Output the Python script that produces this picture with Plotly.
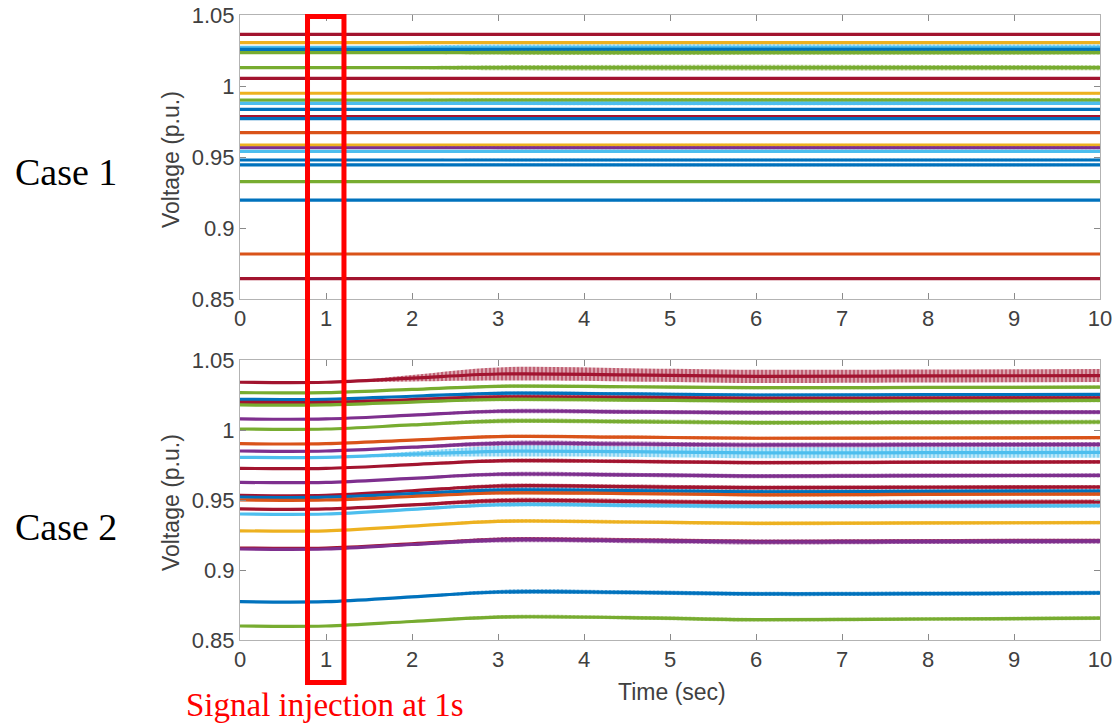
import plotly.graph_objects as go

W, H = 1117, 724

# MATLAB default line colours
PALETTE = {
    "blue": "#0072BD",
    "orange": "#D95319",
    "yellow": "#EDB120",
    "purple": "#7E2F8E",
    "green": "#77AC30",
    "cyan": "#4DBEEE",
    "darkred": "#A2142F",
}

# ---------------- Case 1: bus voltages stay flat ----------------
case1_time = [0, 1, 2, 3, 10]
case1_ramp = [0, 0, 0.6, 1, 1]          # growth of the oscillation after injection
case1_colors = ["darkred", "yellow", "cyan", "blue", "green", "green", "darkred",
                "yellow", "green", "cyan", "blue", "darkred", "blue", "orange",
                "yellow", "purple", "cyan", "blue", "blue", "green", "blue",
                "orange", "darkred"]
case1_levels = [1.0364, 1.0305, 1.0272, 1.0258, 1.0235, 1.0129, 1.0054,
                0.9949, 0.9900, 0.9878, 0.9836, 0.9784, 0.9770, 0.9671,
                0.9584, 0.9565, 0.9540, 0.9479, 0.9444, 0.9326, 0.9197,
                0.8817, 0.8643]
case1_osc = [0.0008, 0.0010, 0.0020, 0.0010, 0.0014, 0.0018, 0.0009,
             0.0008, 0.0014, 0.0012, 0.0008, 0.0009, 0.0008, 0.0008,
             0.0008, 0.0010, 0.0010, 0.0008, 0.0008, 0.0006, 0.0007,
             0.0005, 0.0005]

# ---------------- Case 2: voltages rise after injection ----------------
case2_time = [0, 1, 2, 3, 4.5, 6, 8, 10]
case2_ramp = [0, 0, 0.5, 1, 1, 1, 1, 1]
case2_colors = ["darkred", "green", "blue", "darkred", "green", "purple", "green",
                "orange", "purple", "cyan", "darkred", "purple", "darkred", "blue",
                "orange", "darkred", "cyan", "yellow", "darkred", "purple", "blue",
                "green"]
case2_levels = [
    [1.0341, 1.0341, 1.0370, 1.0400, 1.0394, 1.0383, 1.0386, 1.0389],
    [1.0267, 1.0267, 1.0290, 1.0312, 1.0309, 1.0302, 1.0304, 1.0306],
    [1.0219, 1.0219, 1.0241, 1.0262, 1.0258, 1.0250, 1.0252, 1.0254],
    [1.0198, 1.0198, 1.0217, 1.0236, 1.0233, 1.0226, 1.0228, 1.0230],
    [1.0179, 1.0179, 1.0199, 1.0218, 1.0214, 1.0207, 1.0209, 1.0211],
    [1.0079, 1.0079, 1.0106, 1.0134, 1.0130, 1.0124, 1.0126, 1.0128],
    [1.0007, 1.0007, 1.0036, 1.0064, 1.0060, 1.0052, 1.0055, 1.0057],
    [0.9902, 0.9902, 0.9928, 0.9953, 0.9949, 0.9941, 0.9943, 0.9945],
    [0.9850, 0.9850, 0.9877, 0.9904, 0.9900, 0.9893, 0.9895, 0.9897],
    [0.9805, 0.9805, 0.9827, 0.9848, 0.9845, 0.9836, 0.9838, 0.9840],
    [0.9726, 0.9726, 0.9753, 0.9780, 0.9776, 0.9767, 0.9770, 0.9772],
    [0.9626, 0.9626, 0.9655, 0.9684, 0.9680, 0.9671, 0.9674, 0.9676],
    [0.9533, 0.9533, 0.9566, 0.9600, 0.9595, 0.9588, 0.9591, 0.9593],
    [0.9520, 0.9520, 0.9545, 0.9571, 0.9567, 0.9559, 0.9562, 0.9564],
    [0.9500, 0.9500, 0.9525, 0.9550, 0.9546, 0.9537, 0.9540, 0.9542],
    [0.9436, 0.9436, 0.9465, 0.9495, 0.9490, 0.9481, 0.9484, 0.9486],
    [0.9400, 0.9400, 0.9433, 0.9466, 0.9462, 0.9454, 0.9456, 0.9459],
    [0.9280, 0.9280, 0.9314, 0.9348, 0.9343, 0.9333, 0.9336, 0.9339],
    [0.9157, 0.9157, 0.9187, 0.9218, 0.9213, 0.9203, 0.9206, 0.9209],
    [0.9150, 0.9150, 0.9182, 0.9214, 0.9209, 0.9200, 0.9203, 0.9206],
    [0.8774, 0.8774, 0.8808, 0.8843, 0.8840, 0.8829, 0.8831, 0.8836],
    [0.8600, 0.8600, 0.8632, 0.8664, 0.8660, 0.8645, 0.8650, 0.8656],
]
case2_osc = [0.0047, 0.0011, 0.0011, 0.0013, 0.0013, 0.0015, 0.0016,
             0.0011, 0.0018, 0.0038, 0.0013, 0.0015, 0.0015, 0.0015,
             0.0011, 0.0018, 0.0015, 0.0013, 0.0015, 0.0018, 0.0015,
             0.0013]

x_ticks = list(range(0, 11))
y_ticks = [0.85, 0.9, 0.95, 1.0, 1.05]
y_ticktext = ["0.85", "0.9", "0.95", "1", "1.05"]


def rgba(hex_color, alpha):
    h = hex_color.lstrip("#")
    r, g, b = int(h[0:2], 16), int(h[2:4], 16), int(h[4:6], 16)
    return f"rgba({r},{g},{b},{alpha})"


def px_x(p):
    return p / W


def px_y(p):
    return 1 - p / H


def add_bus(fig, t, levels, ramp, osc, color, xa, ya):
    upper = [v + osc * r for v, r in zip(levels, ramp)]
    lower = [v - osc * r for v, r in zip(levels, ramp)]
    common = dict(x=t, mode="lines", xaxis=xa, yaxis=ya,
                  showlegend=False, hoverinfo="skip")
    fig.add_trace(go.Scatter(y=upper, line=dict(width=0, shape="spline",
                                                 color=color), **common))
    fig.add_trace(go.Scatter(
        y=lower, line=dict(width=0, shape="spline", color=color),
        fill="tonexty", fillcolor=rgba(color, 0.4),
        fillpattern=dict(shape="|", fgcolor=color, bgcolor=rgba(color, 0.35),
                         size=4, solidity=0.55),
        **common))
    fig.add_trace(go.Scatter(y=levels, line=dict(width=3.2, shape="spline",
                                                  color=color), **common))


fig = go.Figure()

for name, lvl, osc in zip(case1_colors, case1_levels, case1_osc):
    add_bus(fig, case1_time, [lvl] * len(case1_time), case1_ramp, osc,
            PALETTE[name], "x", "y")

for name, lvl, osc in zip(case2_colors, case2_levels, case2_osc):
    add_bus(fig, case2_time, lvl, case2_ramp, osc, PALETTE[name], "x2", "y2")

tick_font = dict(family="Liberation Sans, Arial, sans-serif", size=22,
                 color="#404040")
axis_common = dict(showgrid=False, zeroline=False, showline=True,
                   linecolor="#b3b3b3", linewidth=1, mirror="ticks",
                   ticks="inside", ticklen=6, tickcolor="#8a8a8a",
                   tickfont=tick_font, automargin=False)

x_dom = [px_x(240), px_x(1100)]
fig.update_layout(
    width=W, height=H,
    margin=dict(l=0, r=0, t=0, b=0, autoexpand=False),
    paper_bgcolor="white", plot_bgcolor="white",
    xaxis=dict(domain=x_dom, anchor="y", range=[0, 10], tickvals=x_ticks,
               **axis_common),
    yaxis=dict(domain=[px_y(299), px_y(15)], anchor="x", range=[0.85, 1.05],
               tickvals=y_ticks, ticktext=y_ticktext, **axis_common),
    xaxis2=dict(domain=x_dom, anchor="y2", range=[0, 10], tickvals=x_ticks,
                **axis_common),
    yaxis2=dict(domain=[px_y(640), px_y(360)], anchor="x2", range=[0.85, 1.05],
                tickvals=y_ticks, ticktext=y_ticktext, **axis_common),
)

label_font = dict(family="Liberation Sans, Arial, sans-serif", size=23,
                  color="#404040")
serif = "Liberation Serif, Times New Roman, serif"
annotations = [
    dict(text="Voltage (p.u.)", x=px_x(171), y=px_y(160), textangle=-90,
         font=label_font),
    dict(text="Voltage (p.u.)", x=px_x(171), y=px_y(503), textangle=-90,
         font=label_font),
    dict(text="Time (sec)", x=px_x(672), y=px_y(692), font=label_font),
    dict(text="Case 1", x=px_x(66), y=px_y(172),
         font=dict(family=serif, size=38, color="black")),
    dict(text="Case 2", x=px_x(66), y=px_y(527),
         font=dict(family=serif, size=38, color="black")),
    dict(text="Signal injection at 1s", x=px_x(325), y=px_y(705),
         font=dict(family=serif, size=33, color="#ff0000")),
]
for a in annotations:
    a.update(xref="paper", yref="paper", showarrow=False,
             xanchor="center", yanchor="middle")
fig.update_layout(annotations=annotations)

# Highlight box around the injection instant, spanning both panels
fig.add_shape(type="rect", xref="x", yref="paper", x0=0.785, x1=1.209,
              y0=px_y(682.5), y1=px_y(16.5),
              line=dict(color="#ff0000", width=5), layer="above")

fig.write_html("out.html")
